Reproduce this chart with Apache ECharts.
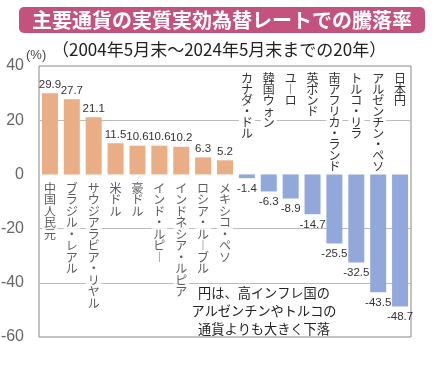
<!DOCTYPE html>
<html>
<head>
<meta charset="utf-8">
<script src="https://cdn.jsdelivr.net/npm/echarts@6/dist/echarts.min.js"></script>
<style>
html,body{margin:0;padding:0;background:#fff;}
#main{width:434px;height:370px;}
</style>
</head>
<body>
<div id="main"></div>
<script>
const titleText = '主要通貨の実質実効為替レートでの騰落率';
const subtitleText = '（2004年5月末～2024年5月末までの20年）';
const unitText = '(%)';
const noteText = '円は、高インフレ国の\nアルゼンチンやトルコの\n通貨よりも大きく下落';
const categories = ['中国人民元','ブラジル・レアル','サウジアラビア・リヤル','米ドル','豪ドル','インド・ルピー','インドネシア・ルピア','ロシア・ルーブル','メキシコ・ペソ','カナダ・ドル','韓国ウォン','ユーロ','英ポンド','南アフリカ・ランド','トルコ・リラ','アルゼンチン・ペソ','日本円'];
const values = [29.9, 27.7, 21.1, 11.5, 10.6, 10.6, 10.2, 6.3, 5.2, -1.4, -6.3, -8.9, -14.7, -25.5, -32.5, -43.5, -48.7];
const yTicks = [-60, -40, -20, 0, 20, 40];

const JP = '"Noto Sans CJK JP", sans-serif';
const NUM = '"Liberation Sans", Arial, "Noto Sans CJK JP", sans-serif';

function vertical(s) {
  return s.split('').map(c => c === 'ー' ? '︱' : c).join('\n');
}

const chart = echarts.init(document.getElementById('main'), null, {renderer: 'canvas'});
chart.setOption({
  animation: false,
  backgroundColor: '#fff',
  title: [{
    text: titleText,
    left: 19, top: 7,
    padding: [3, 13, 3, 13],
    backgroundColor: '#C4527F',
    borderRadius: 5,
    textStyle: {color: '#fff', fontSize: 20, fontWeight: 'bold', fontFamily: JP, lineHeight: 20}
  }, {
    text: subtitleText,
    left: 52, top: 39,
    padding: 0,
    textStyle: {color: '#222', fontSize: 17, fontWeight: 'normal', fontFamily: JP, lineHeight: 22}
  }],
  grid: {
    left: 39, right: 23, top: 66, bottom: 33,
    containLabel: false,
    outerBoundsMode: 'none',
    show: true, borderColor: '#888', borderWidth: 1, backgroundColor: 'transparent'
  },
  xAxis: [{
    type: 'category',
    data: categories,
    position: 'bottom',
    axisLine: {show: false},
    axisTick: {show: false},
    splitLine: {show: false},
    axisLabel: {show: false}
  }, {
    type: 'category',
    data: categories,
    position: 'top',
    z: 3,
    axisLine: {show: false},
    axisTick: {show: false},
    splitLine: {show: false},
    axisLabel: {
      inside: true, interval: 0, margin: 5, verticalAlign: 'top', hideOverlap: false,
      fontSize: 12, lineHeight: 11, color: '#333', fontFamily: JP,
      backgroundColor: '#fff', padding: [2, 2, 2, 2],
      formatter: (v, i) => values[i] < 0 ? vertical(v) : ''
    }
  }],
  yAxis: {
    type: 'value',
    min: yTicks[0], max: yTicks[yTicks.length - 1], interval: 20,
    axisLine: {show: false},
    axisTick: {show: false},
    axisLabel: {fontSize: 16, color: '#666', margin: 15, fontFamily: NUM},
    splitLine: {show: true, lineStyle: {color: ['rgba(0,0,0,0)', '#bbb', '#bbb', 'rgba(0,0,0,0)', '#bbb', 'rgba(0,0,0,0)'], width: 1}}
  },
  series: [{
    name: 'up',
    type: 'bar',
    xAxisIndex: 0,
    data: values.map(v => v >= 0 ? v : '-'),
    barWidth: 16,
    barGap: '-100%',
    itemStyle: {color: '#E9AE86'},
    label: {show: true, position: 'top', distance: 3, fontSize: 11.5, color: '#333', fontFamily: NUM,
      formatter: p => Number(p.value).toFixed(1)}
  }, {
    name: 'down',
    type: 'bar',
    xAxisIndex: 0,
    data: values.map(v => v < 0 ? v : '-'),
    barWidth: 16,
    barGap: '-100%',
    itemStyle: {color: '#93A8DA'},
    label: {show: true, position: 'bottom', distance: 5, fontSize: 11.5, color: '#333', fontFamily: NUM,
      formatter: p => Number(p.value).toFixed(1)}
  }, {
    name: 'names',
    type: 'scatter',
    xAxisIndex: 0,
    symbolSize: 0,
    silent: true,
    z: 5,
    data: values.map(v => v >= 0 ? 0 : '-'),
    label: {
      show: true, position: 'bottom', distance: 6, verticalAlign: 'top',
      fontSize: 12, lineHeight: 11.5, color: '#333', fontFamily: JP,
      backgroundColor: '#fff', padding: [2, 2, 2, 2],
      formatter: p => vertical(categories[p.dataIndex])
    }
  }],
  graphic: [{
    type: 'text',
    left: 26, top: 49,
    style: {text: unitText, fontSize: 13, fill: '#444', fontFamily: NUM}
  }, {
    type: 'text',
    x: 264, y: 284,
    style: {text: noteText, fontSize: 13.2, lineHeight: 18, fill: '#222', fontFamily: JP,
      align: 'center', verticalAlign: 'top'}
  }]
});
</script>
</body>
</html>
